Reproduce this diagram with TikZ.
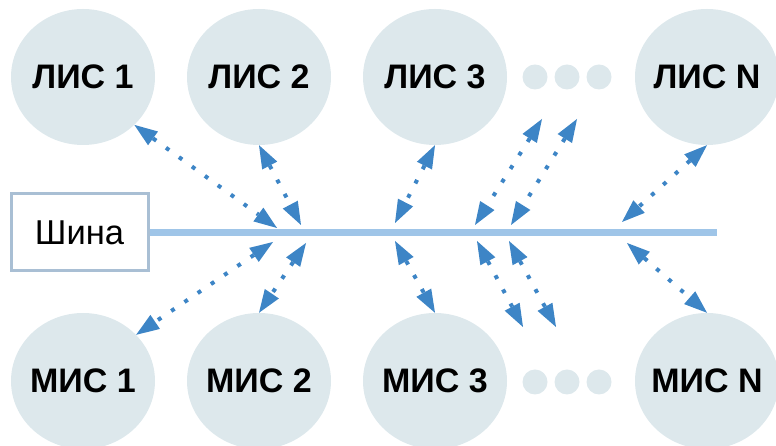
\documentclass[tikz,border=0pt]{standalone}
\usepackage{fontspec}
\setmainfont{Liberation Sans}
\usetikzlibrary{arrows.meta,shapes.geometric}
\definecolor{sysgray}{HTML}{DDE8EC}
\definecolor{linkblue}{HTML}{3D85C6}
\definecolor{buslight}{HTML}{9FC5E8}
\definecolor{boxframe}{HTML}{A9BFD4}
\begin{document}
\begin{tikzpicture}[x=1pt, y=1pt,
	sys/.style={ellipse, fill=sysgray, minimum width=144pt, minimum height=136pt, inner sep=0pt, label={[font=\bfseries\fontsize{34}{34}\selectfont]center:#1}},
	dot/.style={circle, fill=sysgray, minimum size=25pt, inner sep=0pt},
	link/.style={{Triangle[length=23pt,width=17pt,line width=0pt]}-{Triangle[length=23pt,width=17pt,line width=0pt]}, draw=linkblue, line width=4pt, dash pattern=on 4pt off 12pt}]
	\useasboundingbox (0,0) rectangle (776,446);
	\clip (0,0) rectangle (776,446);
	\foreach \n/\x in {1/83,2/259,3/435,N/707}{
		\node[sys={ЛИС \n}] (lis\n) at (\x,369) {};
		\node[sys={МИС \n}] (mis\n) at (\x,65) {};
	}
	\foreach \i/\x in {1/535,2/567,3/599}{
		\node[dot] (ldot\i) at (\x,369) {};
		\node[dot] (mdot\i) at (\x,64) {};
	}
	\node[draw=boxframe, line width=3pt, minimum width=137pt, minimum height=77pt, inner sep=0pt, font=\fontsize{34.5}{34.5}\selectfont] (bus) at (79.5,213.5) {Шина};
	\coordinate (busend) at (717,213.5);
	\draw[buslight, line width=7pt] (bus.east) -- (busend);
	% bus ends, top
	\coordinate (t1) at (277,218); \coordinate (t2) at (301,221); \coordinate (t3) at (395,223);
	\coordinate (t4) at (475,221); \coordinate (t5) at (511,221); \coordinate (t6) at (622,224);
	\coordinate (u4) at (542,327); \coordinate (u5) at (577,327);
	% bus ends, bottom
	\coordinate (b1) at (273,204); \coordinate (b2) at (306,203); \coordinate (b3) at (395,205);
	\coordinate (b4) at (477,205); \coordinate (b5) at (509,205); \coordinate (b6) at (627,203);
	\coordinate (v4) at (523,119); \coordinate (v5) at (556,119);
	\draw[link] (lis1.-43) -- (t1);
	\draw[link] (lis2.south) -- (t2);
	\draw[link] (lis3.south) -- (t3);
	\draw[link] (u4) -- (t4);
	\draw[link] (u5) -- (t5);
	\draw[link] (lisN.south) -- (t6);
	\draw[link] (b1) -- (mis1.41);
	\draw[link] (b2) -- (mis2.north);
	\draw[link] (b3) -- (mis3.north);
	\draw[link] (b4) -- (v4);
	\draw[link] (b5) -- (v5);
	\draw[link] (b6) -- (misN.north);
\end{tikzpicture}
\end{document}
